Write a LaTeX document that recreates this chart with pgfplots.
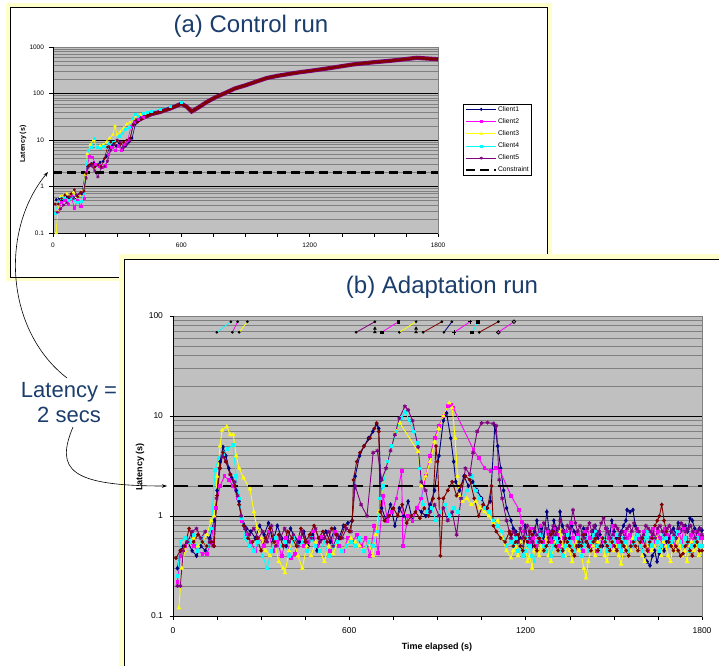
\documentclass[border=0pt]{standalone}
\usepackage{fontspec}
\setmainfont{Liberation Sans}
\usepackage{pgfplots}
\pgfplotsset{compat=1.18}
\usetikzlibrary{arrows.meta}

\definecolor{cnavy}{HTML}{000080}
\definecolor{cmag}{HTML}{FF00FF}
\definecolor{cyel}{HTML}{FFFF00}
\definecolor{ccyan}{HTML}{00FFFF}
\definecolor{cpur}{HTML}{800080}
\definecolor{cmar}{HTML}{800000}
\definecolor{plotbg}{HTML}{C0C0C0}
\definecolor{gridgray}{HTML}{808080}
\definecolor{titleblue}{HTML}{1B3D6B}
\definecolor{frameyel}{HTML}{FFFFCC}

\tikzset{
  sA/.style={color=cnavy, mark=diamond*, mark size=1.7pt, line width=0.9pt},
  sB/.style={color=cmag, mark=square*, mark size=1.4pt, line width=0.9pt},
  sC/.style={color=cyel, mark=triangle*, mark size=1.8pt, line width=0.9pt},
  sD/.style={color=ccyan, mark=square*, mark size=1.3pt, line width=0.9pt},
  sE/.style={color=cpur, mark=asterisk, mark size=2.0pt, line width=0.9pt},
  sF/.style={color=cmar, mark=*, mark size=1.4pt, line width=0.9pt},
  segtop/.style={line width=0.8pt, mark=*, mark size=0.9pt, mark options={black, fill=black}},
}

\begin{document}
\begin{tikzpicture}
\path[use as bounding box] (0pt,0pt) rectangle (719pt,-666pt);

% panel (a)
\fill[frameyel] (6pt,-3pt) rectangle (552pt,-281pt);
\fill[white] (10pt,-7pt) rectangle (547pt,-277pt);
\draw[black,line width=0.9pt] (10pt,-7pt) rectangle (547pt,-277pt);

\begin{axis}[
  at={(53pt,-233pt)}, anchor=south west,
  scale only axis, width=385pt, height=186pt,
  ymode=log, xmin=0, xmax=1800, ymin=0.1, ymax=1000,
  axis background/.style={fill=plotbg},
  ymajorgrids, yminorgrids,
  major grid style={black, line width=0.6pt},
  minor grid style={gridgray, line width=0.6pt},
  xtick={0,150,...,1800},
  xticklabels={0,,,,600,,,,1200,,,,1800},
  ytick={0.1,1,10,100,1000},
  yticklabels={0.1,1,10,100,1000},
  minor ytick={0.2,0.3,0.4,0.5,0.6,0.7,0.8,0.9,2,3,4,5,6,7,8,9,20,30,40,50,60,70,80,90,200,300,400,500,600,700,800,900},
  tick pos=left, tick align=outside,
  major tick length=3.5pt, minor tick length=0pt,
  tick style={black, line width=0.5pt},
  axis line style={gridgray, line width=0.8pt},
  ticklabel style={font=\fontsize{6.5}{7}\selectfont},
  xticklabel shift=3pt, yticklabel shift=2pt,
  legend style={at={(1.065,0.696)}, anchor=north west, draw=black, line width=0.8pt,
    fill=white, font=\fontsize{6.75}{7}\selectfont, row sep=4.6pt, inner sep=1.6pt,
    nodes={inner sep=0.6pt}},
  legend cell align=left,
  legend image code/.code={\draw[#1, mark=none] (0pt,0pt) -- (30pt,0pt); \path[#1] plot coordinates {(15pt,0pt)};},
]
\addplot[sA, line width=0.6pt, mark size=1.3pt] coordinates {(15,0.52) (30,0.55) (45,0.5) (60,0.6) (75,0.55) (90,0.62) (105,0.58) (120,0.65) (135,0.7) (150,1.8) (160,2.8) (175,3.0) (190,3.2) (205,2.9) (220,3.3) (235,3.5) (250,4.5) (265,7) (280,8) (295,7.5) (310,8.5) (325,6) (340,7.5) (355,9) (370,11) (385,22) (400,26) (420,30)};
\addlegendentry{Client1}
\addplot[sB, line width=0.6pt, mark size=1.1pt] coordinates {(10,0.27) (25,0.3) (40,0.45) (55,0.5) (70,0.42) (85,0.6) (100,0.35) (115,0.5) (130,0.38) (145,0.55) (155,2.0) (170,4.5) (185,4.2) (200,3.0) (215,2.8) (230,2.6) (245,2.8) (260,5) (275,7) (290,6) (305,7.5) (320,6) (335,8) (350,10) (365,20) (380,24) (400,28) (420,31)};
\addlegendentry{Client2}
\addplot[sC, line width=0.6pt, mark size=1.4pt] coordinates {(15,0.1) (22,0.3) (35,0.6) (50,0.65) (65,0.7) (80,0.6) (95,0.75) (110,0.6) (125,0.65) (140,0.8) (150,1.8) (160,5) (175,8) (190,10) (205,7) (220,7.5) (235,8) (250,9) (265,11) (280,13) (290,20) (300,13) (315,15) (330,18) (345,22) (360,24) (375,28) (390,33) (410,35) (430,37)};
\addlegendentry{Client3}
\addplot[sD, line width=0.6pt, mark size=1.0pt] coordinates {(10,0.27) (25,0.45) (40,0.55) (55,0.6) (70,0.5) (85,0.55) (100,0.5) (115,0.45) (130,0.48) (145,0.7) (155,3) (165,6) (180,7) (195,11) (205,7) (220,6.5) (235,7.5) (250,7) (265,8.5) (280,9) (295,10) (310,12) (325,14) (340,17) (355,19) (370,30) (385,36) (400,33) (420,38) (440,40) (460,42) (500,46) (550,53) (600,65)};
\addlegendentry{Client4}
\addplot[sE, line width=0.6pt, mark size=1.6pt] coordinates {(20,0.28) (35,0.33) (50,0.4) (65,0.45) (80,0.6) (95,0.55) (110,0.65) (125,0.7) (140,0.75) (155,1.5) (165,2.6) (180,2.8) (195,2.2) (210,1.6) (225,2.5) (240,2.7) (255,3.5) (270,6) (285,8) (300,10) (315,9) (330,7) (345,8) (360,9.5) (375,22) (390,25) (410,30)};
\addlegendentry{Client5}
\addplot[sF, line width=0.6pt, mark size=1.1pt, forget plot] coordinates {(10,0.42) (25,0.42) (40,0.55) (55,0.65) (70,0.6) (85,0.7) (100,0.85) (115,0.6) (130,0.75) (145,0.8) (155,1.9) (165,2.8) (180,3.1) (195,2.6) (210,2.9) (225,2.7) (240,4) (255,7) (270,9) (285,8.5) (300,9.5) (315,8) (330,9) (345,10) (360,11) (375,21) (395,24) (415,28)};
% merged part of all clients
\addplot[cpur, line width=4.2pt, no marks, forget plot] coordinates {(380,24) (420,30) (460,36) (500,40) (550,48) (600,60) (625,52) (648,41) (680,50) (720,66) (760,83) (800,100) (850,128) (900,150) (950,180) (1000,215) (1050,240) (1100,262) (1155,287) (1200,305) (1300,355) (1400,420) (1435,437) (1500,470) (1590,512) (1650,550) (1700,585) (1750,565) (1800,545)};
\addplot[cmar, line width=2.6pt, no marks, forget plot] coordinates {(380,24) (420,30) (460,36) (500,40) (550,48) (600,60) (625,52) (648,41) (680,50) (720,66) (760,83) (800,100) (850,128) (900,150) (950,180) (1000,215) (1050,240) (1100,262) (1155,287) (1200,305) (1300,355) (1400,420) (1435,437) (1500,470) (1590,512) (1650,550) (1700,585) (1750,565) (1800,545)};
\addplot[black, no marks, line width=2.4pt, dash pattern=on 9pt off 5pt] coordinates {(0,2) (1800,2)};
\addlegendentry{Constraint}
\draw[black,line width=0.6pt] (rel axis cs:0,1) -- (rel axis cs:0,0) -- (rel axis cs:1,0);
\end{axis}

\node[rotate=90, font=\bfseries\fontsize{7}{8}\selectfont] at (23pt,-144pt) {Latency (s)};
\node[font=\bfseries\fontsize{7}{8}\selectfont] at (246pt,-262pt) {Time elapsed (s)};
\node[anchor=base, text=titleblue, font=\fontsize{24}{28}\selectfont] at (251pt,-33pt) {(a) Control run};

% panel (b)
\fill[frameyel] (119pt,-254pt) rectangle (719pt,-666pt);
\fill[white] (124pt,-259pt) rectangle (719pt,-666pt);
\draw[black,line width=0.9pt] (124pt,-666pt) -- (124pt,-259pt) -- (719pt,-259pt);

\begin{axis}[
  at={(173pt,-616pt)}, anchor=south west,
  scale only axis, width=529pt, height=300pt,
  ymode=log, xmin=0, xmax=1800, ymin=0.1, ymax=100,
  axis background/.style={fill=plotbg},
  ymajorgrids, yminorgrids,
  major grid style={black, line width=0.6pt},
  minor grid style={gridgray, line width=0.6pt},
  xtick={0,150,...,1800},
  xticklabels={0,,,,600,,,,1200,,,,1800},
  ytick={0.1,1,10,100},
  yticklabels={0.1,1,10,100},
  minor ytick={0.2,0.3,0.4,0.5,0.6,0.7,0.8,0.9,2,3,4,5,6,7,8,9,20,30,40,50,60,70,80,90},
  tick pos=left, tick align=outside,
  major tick length=3.5pt, minor tick length=0pt,
  tick style={black, line width=0.5pt},
  axis line style={gridgray, line width=0.8pt},
  ticklabel style={font=\fontsize{8.5}{9}\selectfont},
  xticklabel shift=5pt, yticklabel shift=3pt,
]
% stray short segments near the top
\addplot[segtop, ccyan] coordinates {(149,68.7) (197,87.7)};
\addplot[segtop, cmag] coordinates {(202,68.7) (220,87.7)};
\addplot[segtop, cyel] coordinates {(225,68.7) (253,87.7)};
\addplot[segtop, cpur] coordinates {(623,68.7) (687,87.7)};
\addplot[segtop, cmag, mark=square*, mark size=1.4pt] coordinates {(710,68.7) (767,87.7)};
\addplot[segtop, cyel] coordinates {(770,68.7) (827,87.7)};
\addplot[segtop, cmar] coordinates {(851,68.7) (915,87.7)};
\addplot[segtop, cnavy] coordinates {(922,68.7) (949,87.7)};
\addplot[segtop, cmag, mark=+, mark size=2.2pt] coordinates {(957,68.7) (1011,87.7)};
\addplot[segtop, ccyan, mark=square*, mark size=1.4pt] coordinates {(1018,68.7) (1038,87.7)};
\addplot[segtop, cmar] coordinates {(1042,68.7) (1107,87.7)};
\addplot[segtop, cmag, mark=o, mark size=1.8pt, mark options={black, fill=none}] coordinates {(1107,68.7) (1160,87.7)};
\addplot[only marks, mark=triangle*, mark size=1.7pt, black] coordinates {(687,69) (687,75) (827,69) (827,75)};

\addplot[sA] coordinates {(15,0.3) (25,0.45) (35,0.5) (50,0.55) (65,0.45) (80,0.4) (95,0.5) (110,0.45) (125,0.6) (140,0.9) (150,1.8) (160,3.5) (170,4.9) (180,4.0) (190,3.0) (200,2.4) (215,1.8) (225,1.4) (235,0.95) (250,0.75) (265,0.7) (280,0.6) (295,0.8) (310,0.65) (325,0.85) (340,0.55) (355,0.8) (370,0.6) (385,0.5) (400,0.75) (415,0.6) (430,0.55) (445,0.7) (460,0.5) (475,0.65) (490,0.45) (505,0.6) (520,0.7) (535,0.55) (550,0.75) (565,0.6) (580,0.8) (595,0.85) (610,0.9) (620,2.5) (635,4.0) (650,5.0) (665,6.0) (680,7.0) (693,8.3) (700,7.5) (710,1.2) (725,0.9) (740,1.3) (755,0.8) (770,1.2) (785,1.0) (800,1.4) (815,0.9) (830,1.2) (845,1.1) (860,1.0) (875,1.3) (890,1.8) (905,4.0) (920,9.0) (931,10.7) (945,6) (955,3.5) (962,2.2) (975,1.8) (990,2.5) (1005,2.0) (1020,2.2) (1035,1.8) (1050,1.5) (1065,1.2) (1080,1.4) (1095,8.0) (1105,5.0) (1115,3.0) (1125,1.8) (1135,1.2) (1150,0.9) (1158,0.75) (1166,0.7) (1174,0.55) (1182,0.6) (1190,0.45) (1198,0.8) (1206,0.6) (1214,0.55) (1222,0.5) (1230,0.7) (1238,0.9) (1246,0.65) (1254,0.75) (1262,0.6) (1272,1.1) (1280,0.7) (1288,0.6) (1296,0.9) (1304,0.75) (1312,0.6) (1317,1.1) (1325,0.8) (1333,0.7) (1341,0.55) (1349,0.6) (1357,0.8) (1365,0.7) (1373,0.65) (1381,0.5) (1389,0.55) (1397,0.75) (1405,0.7) (1413,0.5) (1421,0.6) (1429,0.7) (1437,0.8) (1445,0.6) (1453,0.65) (1461,0.5) (1469,0.55) (1477,0.75) (1485,0.6) (1493,0.9) (1501,0.7) (1509,0.6) (1517,0.5) (1525,0.7) (1533,0.8) (1541,0.9) (1545,1.15) (1555,1.1) (1565,1.15) (1573,0.8) (1581,0.6) (1589,0.5) (1597,0.45) (1605,0.4) (1613,0.35) (1623,0.32) (1631,0.4) (1639,0.45) (1647,0.35) (1655,0.42) (1663,0.5) (1671,0.45) (1679,0.55) (1687,0.6) (1695,0.7) (1703,0.75) (1711,0.65) (1719,0.85) (1727,0.7) (1735,0.75) (1743,0.8) (1751,0.7) (1759,0.95) (1767,0.9) (1775,0.75) (1783,0.7) (1791,0.75) (1800,0.72)};
\addplot[sB] coordinates {(15,0.22) (25,0.4) (40,0.5) (55,0.55) (70,0.5) (85,0.45) (100,0.42) (115,0.42) (130,0.55) (145,1.2) (160,2.0) (175,2.5) (190,2.3) (205,2.0) (220,1.5) (235,0.9) (250,0.65) (265,0.55) (280,0.45) (295,0.6) (310,0.5) (325,0.7) (340,0.45) (355,0.55) (370,0.4) (385,0.6) (400,0.38) (415,0.42) (430,0.6) (445,0.5) (460,0.55) (475,0.7) (490,0.5) (505,0.62) (520,0.55) (535,0.45) (550,0.7) (565,0.5) (580,0.45) (595,0.6) (610,0.55) (625,0.65) (640,0.5) (655,0.6) (670,0.4) (685,0.8) (698,0.43) (715,1.6) (730,0.9) (745,1.1) (760,1.5) (778,2.8) (782,0.5) (800,1.0) (815,0.9) (830,1.2) (845,1.5) (860,2.5) (875,4) (890,6) (905,8) (920,10) (935,12.5) (945,13) (954,12) (1022,4.6) (1040,3.8) (1060,3) (1080,2.8) (1100,3.0) (1113,2.8) (1150,1.6) (1178,1.15) (1186,0.88) (1194,0.7) (1202,0.6) (1210,0.55) (1218,0.75) (1226,0.6) (1234,0.5) (1242,0.65) (1250,0.8) (1258,0.55) (1266,0.45) (1274,0.7) (1282,0.6) (1290,0.55) (1298,0.75) (1306,0.65) (1314,0.5) (1322,0.45) (1330,0.6) (1338,0.7) (1346,0.55) (1354,0.85) (1362,0.6) (1370,0.5) (1378,0.65) (1386,0.55) (1394,0.45) (1402,0.7) (1410,0.75) (1418,0.6) (1426,0.5) (1434,0.65) (1442,0.45) (1450,0.7) (1458,0.6) (1466,0.55) (1474,0.75) (1482,0.6) (1490,0.5) (1498,0.8) (1506,0.65) (1514,0.55) (1522,0.5) (1530,0.45) (1538,0.7) (1546,0.6) (1554,0.65) (1562,0.55) (1570,0.5) (1578,0.75) (1586,0.6) (1594,0.55) (1602,0.7) (1610,0.5) (1618,0.45) (1626,0.6) (1634,0.75) (1642,0.55) (1650,0.7) (1658,0.6) (1666,0.5) (1674,0.75) (1682,0.65) (1690,0.55) (1698,0.6) (1706,0.5) (1714,0.65) (1722,0.7) (1730,0.55) (1738,0.75) (1746,0.6) (1754,0.5) (1762,0.65) (1770,0.55) (1778,0.7) (1786,0.6) (1794,0.65) (1800,0.6)};
\addplot[sC] coordinates {(20,0.12) (30,0.3) (40,0.45) (55,0.55) (70,0.6) (85,0.5) (100,0.55) (115,0.65) (130,0.9) (140,1.0) (150,2.5) (160,5.0) (167,7.2) (183,7.8) (195,6.5) (205,6.5) (215,4.0) (225,3.0) (240,2.4) (262,1.86) (275,1.1) (286,0.76) (300,0.6) (315,0.45) (330,0.4) (345,0.55) (360,0.35) (375,0.3) (381,0.27) (395,0.45) (410,0.6) (425,0.4) (440,0.3) (455,0.5) (470,0.4) (485,0.55) (500,0.45) (515,0.35) (530,0.5) (545,0.42) (560,0.55) (575,0.45) (590,0.5) (605,0.6) (620,0.55) (635,0.5) (650,0.45) (665,0.55) (680,0.4) (690,0.65) (700,1.1) (715,2.0) (730,3.5) (745,5.0) (760,7.0) (772,8.5) (834,4.4) (845,2.0) (860,2.5) (875,3.5) (890,5.5) (905,7.5) (920,10) (940,13.5) (950,12) (960,6) (968,2.5) (975,1.6) (985,1.4) (1000,1.5) (1015,1.3) (1030,1.4) (1045,1.2) (1060,1.1) (1075,1.0) (1090,0.85) (1105,0.9) (1120,0.6) (1135,0.45) (1150,0.38) (1158,0.45) (1166,0.5) (1174,0.4) (1182,0.55) (1190,0.45) (1198,0.6) (1206,0.35) (1214,0.4) (1222,0.3) (1230,0.45) (1238,0.55) (1246,0.4) (1254,0.5) (1262,0.45) (1270,0.6) (1278,0.4) (1286,0.35) (1294,0.5) (1302,0.55) (1310,0.45) (1318,0.7) (1326,0.5) (1334,0.4) (1342,0.55) (1350,0.45) (1358,0.35) (1366,0.5) (1374,0.55) (1382,0.45) (1390,0.4) (1398,0.3) (1405,0.24) (1413,0.35) (1421,0.45) (1429,0.5) (1437,0.4) (1445,0.55) (1453,0.45) (1461,0.6) (1469,0.4) (1477,0.35) (1485,0.5) (1493,0.55) (1501,0.45) (1509,0.5) (1517,0.4) (1525,0.33) (1533,0.45) (1541,0.55) (1549,0.4) (1557,0.45) (1565,0.6) (1573,0.5) (1581,0.45) (1589,0.55) (1597,0.4) (1605,0.35) (1613,0.5) (1621,0.55) (1629,0.45) (1637,0.5) (1645,0.6) (1653,0.45) (1661,0.4) (1669,0.55) (1677,0.5) (1685,0.4) (1693,0.35) (1701,0.5) (1709,0.45) (1717,0.6) (1725,0.5) (1733,0.4) (1741,0.45) (1749,0.35) (1757,0.5) (1765,0.55) (1773,0.45) (1781,0.5) (1789,0.4) (1800,0.45)};
\addplot[sD] coordinates {(15,0.25) (25,0.55) (40,0.6) (55,0.55) (70,0.65) (85,0.45) (100,0.6) (115,0.5) (130,0.75) (143,2.9) (155,3.8) (170,4.2) (185,4.7) (204,5.1) (215,2.5) (225,1.5) (234,0.95) (245,0.6) (260,0.5) (275,0.45) (290,0.55) (305,0.4) (320,0.3) (335,0.45) (350,0.6) (365,0.5) (380,0.55) (395,0.4) (410,0.6) (425,0.5) (440,0.55) (455,0.45) (470,0.6) (485,0.5) (500,0.45) (515,0.55) (530,0.4) (545,0.5) (560,0.55) (575,0.45) (590,0.5) (605,0.55) (620,0.5) (635,0.6) (650,0.45) (665,0.55) (680,0.5) (695,0.7) (705,1.5) (715,2.0) (730,3.5) (745,5.0) (760,7.0) (775,9.5) (790,11) (805,9) (820,7) (834,5.4) (840,3) (850,1.3) (865,1.1) (880,1.2) (895,0.9) (910,1.1) (925,1.3) (940,1.0) (955,1.2) (970,1.1) (985,1.5) (1000,1.8) (1018,2.5) (1030,1.8) (1045,1.5) (1060,1.2) (1075,1.1) (1090,0.9) (1105,0.8) (1120,0.7) (1135,0.5) (1150,0.55) (1158,0.5) (1166,0.6) (1174,0.45) (1182,0.5) (1190,0.4) (1198,0.45) (1206,0.6) (1214,0.5) (1222,0.4) (1230,0.35) (1238,0.55) (1246,0.65) (1254,0.7) (1262,0.5) (1270,0.45) (1278,0.55) (1286,0.4) (1294,0.5) (1302,0.6) (1310,0.55) (1318,0.45) (1326,0.4) (1334,0.5) (1342,0.65) (1350,0.55) (1358,0.5) (1366,0.45) (1374,0.6) (1382,0.55) (1390,0.4) (1398,0.5) (1406,0.6) (1414,0.45) (1422,0.55) (1430,0.65) (1438,0.7) (1446,0.5) (1454,0.45) (1462,0.6) (1470,0.55) (1478,0.45) (1486,0.5) (1494,0.6) (1502,0.55) (1510,0.65) (1518,0.5) (1526,0.45) (1534,0.6) (1542,0.55) (1550,0.45) (1558,0.5) (1566,0.55) (1574,0.6) (1582,0.65) (1590,0.5) (1598,0.45) (1606,0.6) (1614,0.7) (1622,0.55) (1630,0.5) (1638,0.6) (1646,0.55) (1654,0.45) (1662,0.5) (1670,0.65) (1678,0.6) (1686,0.5) (1694,0.55) (1702,0.6) (1710,0.65) (1718,0.7) (1726,0.55) (1734,0.5) (1742,0.6) (1750,0.55) (1758,0.45) (1766,0.5) (1774,0.55) (1782,0.6) (1790,0.5) (1800,0.5)};
\addplot[sE] coordinates {(15,0.2) (25,0.2) (35,0.45) (50,0.55) (65,0.7) (80,0.75) (95,0.6) (110,0.7) (125,0.55) (137,0.5) (148,1.5) (158,3.0) (168,4.0) (180,3.5) (195,2.6) (210,2.2) (220,1.6) (232,1.0) (245,0.75) (260,0.65) (275,0.75) (290,0.6) (305,0.7) (320,0.55) (335,0.8) (350,0.5) (365,0.6) (380,0.75) (395,0.55) (410,0.65) (425,0.5) (440,0.7) (455,0.55) (470,0.6) (485,0.75) (500,0.55) (515,0.6) (530,0.7) (545,0.5) (560,0.65) (575,0.6) (590,0.75) (605,0.7) (620,2.0) (640,1.3) (660,1.0) (681,4.3) (695,4.5) (710,2.3) (725,3.0) (740,4.5) (755,6.5) (770,9.5) (789,12.5) (800,11.5) (815,9) (834,4.9) (845,2.2) (860,1.8) (875,1.1) (890,1.3) (905,1.0) (920,1.2) (935,0.9) (950,1.1) (965,0.65) (980,1.5) (995,3.0) (1010,2.6) (1021,4.3) (1035,7) (1050,8.5) (1070,8.6) (1090,8.4) (1100,8.0) (1110,2.3) (1120,1.5) (1135,0.9) (1150,0.6) (1158,0.7) (1166,0.65) (1174,0.55) (1182,0.75) (1190,0.6) (1198,0.7) (1206,0.8) (1214,0.6) (1222,0.55) (1230,0.75) (1238,0.65) (1246,0.55) (1254,0.7) (1262,0.85) (1270,0.75) (1278,0.6) (1286,0.7) (1294,0.8) (1302,0.65) (1310,0.75) (1318,0.9) (1326,0.7) (1334,0.6) (1342,0.8) (1350,0.75) (1361,1.15) (1369,0.85) (1377,0.7) (1385,0.8) (1393,0.65) (1401,0.6) (1409,0.75) (1417,0.85) (1425,0.7) (1433,0.8) (1441,0.65) (1449,0.7) (1457,0.85) (1465,0.95) (1473,0.75) (1481,0.7) (1489,0.6) (1497,0.65) (1505,0.8) (1513,0.75) (1521,0.65) (1529,0.7) (1537,0.6) (1545,0.75) (1553,0.8) (1561,0.7) (1569,0.85) (1577,0.75) (1585,0.7) (1593,0.6) (1601,0.65) (1609,0.8) (1617,0.75) (1625,0.7) (1633,0.65) (1641,0.6) (1649,0.75) (1657,0.8) (1665,0.7) (1673,0.65) (1681,0.75) (1689,0.8) (1697,0.7) (1705,0.65) (1713,0.6) (1721,0.75) (1729,0.85) (1737,0.8) (1745,0.7) (1753,0.75) (1761,0.8) (1769,0.7) (1777,0.6) (1785,0.7) (1793,0.75) (1800,0.65)};
\addplot[sF] coordinates {(10,0.38) (25,0.45) (40,0.5) (55,0.75) (70,0.55) (85,0.65) (100,0.55) (115,0.5) (130,0.55) (140,0.5) (150,1.6) (160,3.0) (170,4.3) (180,3.5) (195,2.6) (210,2.0) (225,1.3) (240,0.8) (255,0.6) (270,0.55) (285,0.6) (300,0.45) (315,0.6) (330,0.75) (345,0.55) (360,0.65) (375,0.5) (390,0.7) (405,0.6) (420,0.5) (435,0.75) (450,0.55) (465,0.65) (480,0.8) (495,0.6) (510,0.7) (525,0.55) (540,0.75) (555,0.65) (570,0.6) (585,0.8) (600,0.7) (610,0.9) (614,2.3) (625,3.5) (636,4.3) (650,5.0) (670,6.0) (685,7.5) (693,8.5) (700,7.0) (705,1.1) (720,0.9) (735,1.0) (750,1.2) (765,1.0) (780,1.3) (795,0.85) (810,1.0) (825,1.1) (840,0.95) (855,1.2) (870,1.0) (885,1.5) (895,5.0) (900,3.5) (905,1.5) (910,0.4) (920,1.5) (935,1.8) (950,2.2) (965,1.6) (980,2.0) (995,2.5) (1010,2.3) (1025,1.5) (1040,1.0) (1055,1.3) (1070,1.2) (1084,2.0) (1090,0.8) (1100,0.7) (1115,0.6) (1130,0.55) (1145,0.7) (1150,0.65) (1158,0.5) (1166,0.55) (1174,0.65) (1182,0.5) (1190,0.45) (1198,0.6) (1206,0.55) (1214,0.7) (1222,0.65) (1230,0.5) (1238,0.45) (1246,0.6) (1254,0.55) (1262,0.45) (1270,0.5) (1278,0.55) (1286,0.65) (1294,0.7) (1302,0.5) (1310,0.45) (1318,0.55) (1326,0.45) (1334,0.6) (1342,0.55) (1350,0.5) (1358,0.45) (1366,0.4) (1374,0.5) (1382,0.55) (1390,0.5) (1398,0.65) (1406,0.55) (1414,0.5) (1422,0.45) (1430,0.55) (1438,0.6) (1446,0.45) (1454,0.5) (1462,0.6) (1470,0.55) (1478,0.5) (1486,0.45) (1494,0.55) (1502,0.5) (1510,0.45) (1518,0.6) (1526,0.55) (1534,0.5) (1542,0.45) (1550,0.4) (1558,0.5) (1566,0.55) (1574,0.5) (1582,0.45) (1590,0.55) (1598,0.6) (1606,0.5) (1614,0.45) (1622,0.55) (1630,0.6) (1640,0.8) (1648,0.9) (1655,1.0) (1663,1.3) (1671,0.9) (1679,0.7) (1687,0.55) (1695,0.5) (1703,0.45) (1711,0.5) (1719,0.45) (1727,0.4) (1735,0.42) (1743,0.5) (1751,0.55) (1759,0.45) (1767,0.4) (1775,0.5) (1783,0.55) (1791,0.45) (1800,0.45)};
\addplot[black, no marks, line width=2.6pt, dash pattern=on 15pt off 10pt] coordinates {(0,2) (1800,2)};
\draw[black,line width=0.6pt] (rel axis cs:0,1) -- (rel axis cs:0,0) -- (rel axis cs:1,0);
\end{axis}

\node[rotate=90, font=\bfseries\fontsize{9}{10}\selectfont] at (140pt,-467pt) {Latency (s)};
\node[font=\bfseries\fontsize{9}{10}\selectfont] at (437pt,-647pt) {Time elapsed (s)};
\node[anchor=base, text=titleblue, font=\fontsize{24}{28}\selectfont] at (442pt,-293pt) {(b) Adaptation run};

% annotation
\node[anchor=base, text=titleblue, font=\fontsize{22}{26}\selectfont] at (69pt,-397pt) {Latency =};
\node[anchor=base, text=titleblue, font=\fontsize{22}{26}\selectfont] at (69pt,-422pt) {2 secs};
\draw[-{Stealth[length=5pt,width=3.5pt]}, line width=0.6pt] (67pt,-378pt) .. controls (5pt,-330pt) and (0pt,-230pt) .. (48pt,-172pt);
\draw[-{Stealth[length=5pt,width=3.5pt]}, line width=0.6pt] (73pt,-427pt) .. controls (55pt,-470pt) and (70pt,-486pt) .. (167pt,-486pt);
\end{tikzpicture}
\end{document}
